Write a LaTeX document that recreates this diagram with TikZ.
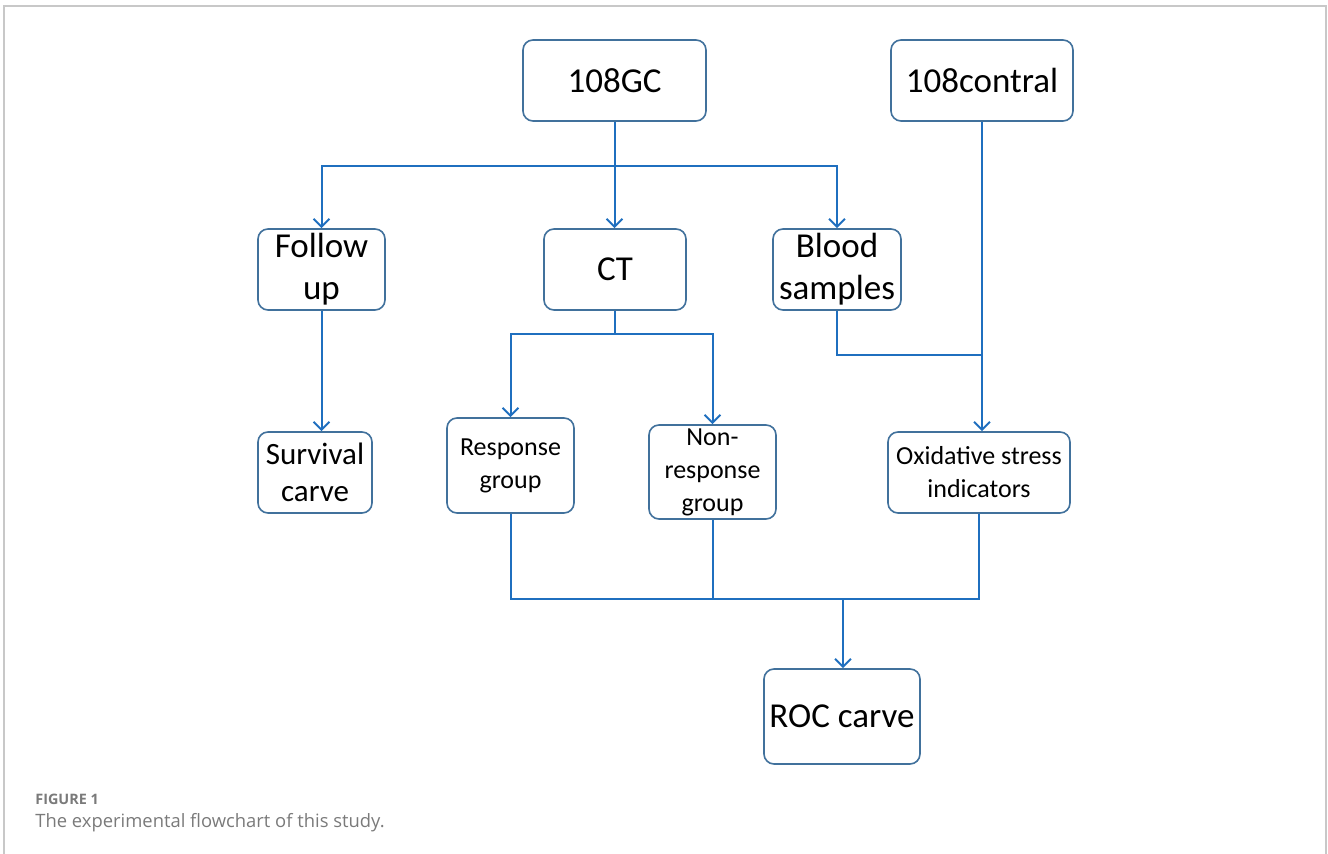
\documentclass[tikz,border=0pt]{standalone}
\usepackage{fontspec}
\setmainfont{Carlito}
\newfontfamily\capfont{Open Sans}
\usetikzlibrary{arrows.meta}
\definecolor{boxline}{HTML}{41719C}
\definecolor{flowline}{HTML}{1F6FBF}
\definecolor{capgray}{HTML}{7A7A7A}
\definecolor{framegray}{HTML}{C8C8C8}
\begin{document}
\begin{tikzpicture}[x=0.5pt,y=-0.5pt]
  \tikzstyle{box}=[draw=boxline, line width=0.8pt, rounded corners=5pt, fill=white, align=center, inner sep=0pt]
  \tikzstyle{big}=[font=\fontsize{17.5}{21}\selectfont]
  \tikzstyle{mid}=[font=\fontsize{15.5}{18.5}\selectfont]
  \tikzstyle{small}=[font=\fontsize{13}{16.5}\selectfont]
  \tikzstyle{link}=[draw=flowline, line width=1pt]
  \tikzstyle{arrow}=[link, -{Straight Barb[length=4pt,width=8pt]}]

  \useasboundingbox (0,0) rectangle (1328,854);
  \draw[framegray, line width=1pt] (4,854) -- (4,6) -- (1326,6) -- (1326,854);

  \node[box, big,   minimum width=91.5pt, minimum height=40.5pt] (gc)       at (614.5, 80.5) {108GC};
  \node[box, big,   minimum width=91pt,   minimum height=40.5pt] (control)  at (982,   80.5) {108contral};
  \node[box, big,   minimum width=63.5pt, minimum height=40.5pt] (follow)   at (321.5, 269.5) {Follow\\up};
  \node[box, big,   minimum width=71pt,   minimum height=40.5pt] (ct)       at (615,   269.5) {CT};
  \node[box, big,   minimum width=64pt,   minimum height=40.5pt] (blood)    at (837,   269.5) {Blood\\samples};
  \node[box, mid,   minimum width=57pt,   minimum height=40.5pt] (survival) at (315,   472.5) {Survival\\carve};
  \node[box, small, minimum width=63.5pt, minimum height=47.5pt] (resp)     at (510.5, 465.5) {Response\\group};
  \node[box, small, minimum width=63.5pt, minimum height=47pt]   (nonresp)  at (712.5, 472)   {Non-\\response\\group};
  \node[box, small, minimum width=91pt,   minimum height=40.5pt] (oxid)     at (979,   472.5) {Oxidative stress\\indicators};
  \node[box, big,   minimum width=78pt,   minimum height=47.5pt] (roc)      at (842,   716.5) {ROC carve};

  \coordinate (gcsplit)  at (614, 166);
  \coordinate (ctsplit)  at (615, 334);
  \coordinate (bloodjoin) at (982, 355);
  \coordinate (rocjoin)  at (843, 599);

  \draw[arrow] (gc.south) -- (gc.south |- ct.north);
  \draw[arrow] (gcsplit) -| (follow.north);
  \draw[arrow] (gcsplit) -| (blood.north);
  \draw[arrow] (follow.south) -- (follow.south |- survival.north);
  \draw[link]  (ct.south) -- (ctsplit);
  \draw[arrow] (ctsplit) -| (resp.north);
  \draw[arrow] (ctsplit) -| (nonresp.north);
  \draw[arrow] (control.south) -- (control.south |- oxid.north);
  \draw[link]  (blood.south) |- (bloodjoin);
  \draw[link]  (resp.south) |- (rocjoin);
  \draw[link]  (nonresp.south) -- (nonresp.south |- rocjoin);
  \draw[link]  (oxid.south) |- (rocjoin);
  \draw[arrow] (rocjoin) -- (rocjoin |- roc.north);

  \node[anchor=west, inner sep=0pt, text=capgray, font=\capfont\bfseries\fontsize{7.2}{8}\selectfont] (figlabel) at (35, 799) {FIGURE 1};
  \node[anchor=west, inner sep=0pt, text=capgray, font=\capfont\fontsize{9.2}{11}\selectfont] (caption) at (35, 823) {The experimental flowchart of this study.};
\end{tikzpicture}
\end{document}
